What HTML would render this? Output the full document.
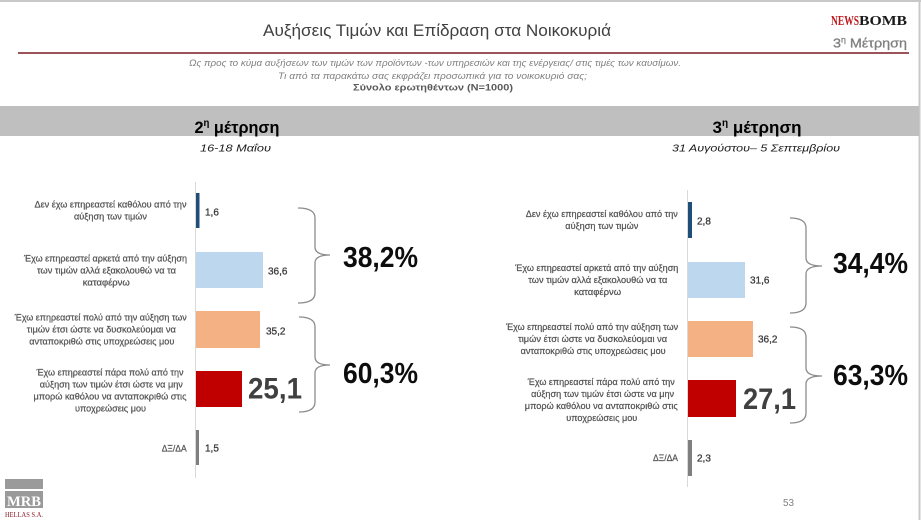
<!DOCTYPE html>
<html>
<head>
<meta charset="utf-8">
<style>
  html,body{margin:0;padding:0;background:#fff;}
  body{width:921px;height:520px;overflow:hidden;}
  svg{display:block;}
  text{font-family:"Liberation Sans","DejaVu Sans",sans-serif;}
</style>
</head>
<body>
<svg width="921" height="520" viewBox="0 0 921 520" xmlns="http://www.w3.org/2000/svg">
  <rect x="0" y="0" width="921" height="520" fill="#ffffff"/>
  <!-- page borders -->
  <line x1="0" y1="1" x2="921" y2="1" stroke="#c8c8c8" stroke-width="2"/>
  <line x1="919.5" y1="0" x2="919.5" y2="520" stroke="#c8c8c8" stroke-width="2"/>

  <!-- title -->
  <text x="437" y="36" font-size="17" fill="#404040" text-anchor="middle" textLength="348" lengthAdjust="spacingAndGlyphs">Αυξήσεις Τιμών και Επίδραση στα Νοικοκυριά</text>

  <!-- logo -->
  <text x="831" y="25" font-weight="bold" font-size="14" fill="#c0171d" textLength="28" lengthAdjust="spacingAndGlyphs" style="font-family:'Liberation Serif',serif">NEWS</text>
  <text x="859" y="25" font-weight="bold" font-size="14" fill="#1a1a1a" textLength="48" lengthAdjust="spacingAndGlyphs" style="font-family:'Liberation Serif',serif">BOMB</text>
  <text x="833" y="47.5" font-size="13" fill="#7f7f7f" stroke="#7f7f7f" stroke-width="0.3" textLength="74" lengthAdjust="spacingAndGlyphs">3<tspan font-size="8" dy="-5">η</tspan><tspan dy="5"> Μέτρηση</tspan></text>

  <!-- red rule -->
  <line x1="18" y1="53" x2="909" y2="53" stroke="#7b1c22" stroke-width="1.5"/>

  <!-- subtitle -->
  <text x="435" y="66" font-size="9" font-style="italic" fill="#7f7f7f" text-anchor="middle" textLength="492" lengthAdjust="spacingAndGlyphs">Ως προς το κύμα αυξήσεων των τιμών των προϊόντων -των υπηρεσιών και της ενέργειας/ στις τιμές των καυσίμων.</text>
  <text x="432.5" y="79" font-size="9" font-style="italic" fill="#7f7f7f" text-anchor="middle" textLength="309" lengthAdjust="spacingAndGlyphs">Τι από τα παρακάτω σας εκφράζει  προσωπικά για το νοικοκυριό σας;</text>
  <text x="433" y="90.5" font-size="9" font-weight="bold" fill="#595959" text-anchor="middle" textLength="160" lengthAdjust="spacingAndGlyphs">Σύνολο ερωτηθέντων (N=1000)</text>

  <!-- gray band -->
  <rect x="0" y="106" width="919" height="30" fill="#bfbfbf"/>
  <text x="237" y="133" font-size="17" font-weight="bold" fill="#000" text-anchor="middle" textLength="85" lengthAdjust="spacingAndGlyphs">2<tspan font-size="10" dy="-7">η</tspan><tspan dy="7"> μέτρηση</tspan></text>
  <text x="757" y="133" font-size="17" font-weight="bold" fill="#000" text-anchor="middle" textLength="89" lengthAdjust="spacingAndGlyphs">3<tspan font-size="10" dy="-7">η</tspan><tspan dy="7"> μέτρηση</tspan></text>
  <text x="235.5" y="151.5" font-size="10.5" font-style="italic" fill="#1a1a1a" text-anchor="middle" textLength="71" lengthAdjust="spacingAndGlyphs">16-18 Μαΐου</text>
  <text x="756" y="151.5" font-size="10.5" font-style="italic" fill="#1a1a1a" text-anchor="middle" textLength="168" lengthAdjust="spacingAndGlyphs">31 Αυγούστου– 5 Σεπτεμβρίου</text>

  <!-- axes -->
  <line x1="195.5" y1="182" x2="195.5" y2="478" stroke="#d9d9d9" stroke-width="1"/>
  <line x1="687.5" y1="190" x2="687.5" y2="487" stroke="#d9d9d9" stroke-width="1"/>

  <!-- category labels (left) -->
  <g id="labels" font-size="9.5" fill="#555555" stroke="#555555" stroke-width="0.25" text-anchor="middle">
    <text x="110.5" y="207.5" textLength="152" lengthAdjust="spacingAndGlyphs">Δεν έχω επηρεαστεί καθόλου από την</text>
    <text x="110.5" y="219.5" textLength="73" lengthAdjust="spacingAndGlyphs">αύξηση των τιμών</text>

    <text x="105.5" y="261.5" textLength="163" lengthAdjust="spacingAndGlyphs">Έχω επηρεαστεί αρκετά από την αύξηση</text>
    <text x="106.5" y="273.5" textLength="139" lengthAdjust="spacingAndGlyphs">των τιμών αλλά εξακολουθώ να τα</text>
    <text x="106.3" y="285.5" textLength="47" lengthAdjust="spacingAndGlyphs">καταφέρνω</text>

    <text x="100.8" y="320.5" textLength="172" lengthAdjust="spacingAndGlyphs">Έχω επηρεαστεί πολύ από την αύξηση των</text>
    <text x="101.3" y="332.5" textLength="149" lengthAdjust="spacingAndGlyphs">τιμών έτσι ώστε να δυσκολεύομαι να</text>
    <text x="101.8" y="344.5" textLength="145" lengthAdjust="spacingAndGlyphs">ανταποκριθώ στις υποχρεώσεις μου</text>

    <text x="110" y="375.5" textLength="147" lengthAdjust="spacingAndGlyphs">Έχω επηρεαστεί πάρα πολύ από την</text>
    <text x="111.3" y="387.5" textLength="143" lengthAdjust="spacingAndGlyphs">αύξηση των τιμών έτσι ώστε να μην</text>
    <text x="110" y="399.5" textLength="153" lengthAdjust="spacingAndGlyphs">μπορώ καθόλου να ανταποκριθώ στις</text>
    <text x="110.5" y="411.5" textLength="71" lengthAdjust="spacingAndGlyphs">υποχρεώσεις μου</text>

    <text x="174.2" y="451.5" textLength="25" lengthAdjust="spacingAndGlyphs">ΔΞ/ΔΑ</text>
  </g>
  <!-- category labels (right) -->
  <use href="#labels" transform="translate(491.3,9.7)"/>

  <!-- left bars -->
  <rect x="196" y="193" width="3.5" height="35" fill="#1f4e79"/>
  <rect x="196" y="252" width="67" height="36" fill="#bdd7ee"/>
  <rect x="196" y="311" width="64" height="37" fill="#f4b183"/>
  <rect x="196" y="371" width="46" height="36" fill="#c00000"/>
  <rect x="196" y="430" width="3" height="35" fill="#7f7f7f"/>

  <!-- right bars -->
  <rect x="688" y="202" width="4" height="36" fill="#1f4e79"/>
  <rect x="688" y="262" width="57" height="36" fill="#bdd7ee"/>
  <rect x="688" y="321" width="65" height="36" fill="#f4b183"/>
  <rect x="688" y="380" width="48" height="37" fill="#c00000"/>
  <rect x="688" y="440" width="4" height="36" fill="#7f7f7f"/>

  <!-- value labels -->
  <g font-size="10" fill="#3a3a3a" stroke="#3a3a3a" stroke-width="0.3">
    <text x="205" y="215.5">1,6</text>
    <text x="268" y="274.5">36,6</text>
    <text x="266" y="334.5">35,2</text>
    <text x="205" y="451.5">1,5</text>
    <text x="697" y="224.5">2,8</text>
    <text x="750" y="283.5">31,6</text>
    <text x="758" y="342.5">36,2</text>
    <text x="697" y="461.5">2,3</text>
  </g>
  <text x="248" y="398.5" font-size="30" font-weight="bold" fill="#404040" textLength="54" lengthAdjust="spacingAndGlyphs">25,1</text>
  <text x="743" y="409" font-size="30" font-weight="bold" fill="#404040" textLength="53" lengthAdjust="spacingAndGlyphs">27,1</text>

  <!-- braces -->
  <g fill="none" stroke="#8c8c8c" stroke-width="1.3">
    <path d="M298,208 Q315,208 315,218 L315,247 Q315,255 330,255 Q315,255 315,263 L315,293 Q315,303 298,303"/>
    <path d="M299,317 Q315,317 315,327 L315,357 Q315,365 330,365 Q315,365 315,373 L315,402 Q315,412 299,412"/>
    <path d="M790,218 Q806,218 806,228 L806,258 Q806,266 822,266 Q806,266 806,274 L806,303 Q806,313 790,313"/>
    <path d="M790,327 Q806,327 806,337 L806,368 Q806,376 822,376 Q806,376 806,384 L806,413 Q806,423 790,423"/>
  </g>

  <!-- big percentages -->
  <g font-size="29" font-weight="bold" fill="#0d0d0d">
    <text x="343" y="267" textLength="75" lengthAdjust="spacingAndGlyphs">38,2%</text>
    <text x="343" y="383" textLength="75" lengthAdjust="spacingAndGlyphs">60,3%</text>
    <text x="833" y="273" textLength="75" lengthAdjust="spacingAndGlyphs">34,4%</text>
    <text x="833" y="385" textLength="75" lengthAdjust="spacingAndGlyphs">63,3%</text>
  </g>

  <!-- MRB logo -->
  <rect x="5" y="479" width="38" height="10" fill="#9a9a9a"/>
  <rect x="5" y="491" width="38" height="17" fill="#9a9a9a"/>
  <text x="24" y="506" font-size="15" font-weight="bold" fill="#ffffff" text-anchor="middle" textLength="34" lengthAdjust="spacingAndGlyphs" style="font-family:'Liberation Serif',serif">MRB</text>
  <text x="24" y="517" font-size="7" fill="#8b1a2a" text-anchor="middle" textLength="38" lengthAdjust="spacingAndGlyphs" style="font-family:'Liberation Serif',serif">HELLAS S.A.</text>

  <!-- page number -->
  <text x="783" y="506" font-size="10" fill="#7f7f7f" textLength="11" lengthAdjust="spacingAndGlyphs">53</text>
</svg>
</body>
</html>
